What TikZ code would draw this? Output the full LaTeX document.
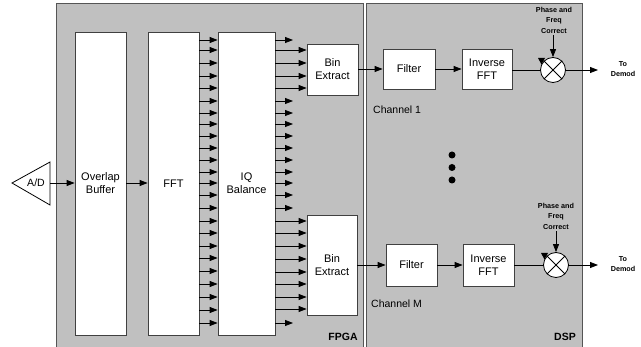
\documentclass[tikz,border=0pt]{standalone}
\usepackage{fontspec}
\setmainfont{Liberation Sans}
\usetikzlibrary{arrows.meta}
\definecolor{panelgray}{HTML}{C0C0C0}
\definecolor{paneledge}{HTML}{555555}
\definecolor{boxedge}{HTML}{404040}
\begin{document}
\begin{tikzpicture}[x=1pt,y=-1pt,
  panel/.style={fill=panelgray,draw=paneledge,line width=1pt},
  blk/.style={draw=boxedge,fill=white,line width=0.8pt,inner sep=0pt,align=center,
    font=\fontsize{11}{13}\selectfont},
  arr/.style={-{Triangle[length=8pt,width=6pt]},line width=0.8pt},
  ln/.style={line width=0.8pt},
  small/.style={font=\fontsize{7.2}{10.5}\selectfont\bfseries,align=center,inner sep=0pt},
  lbl/.style={font=\fontsize{10.5}{13}\selectfont,inner sep=0pt},
  big/.style={font=\fontsize{10.5}{13}\selectfont\bfseries,inner sep=0pt},
  mult/.style={circle,draw=black,fill=white,line width=0.8pt,minimum size=25pt,inner sep=0pt}]
\useasboundingbox (0,0) rectangle (641,347);
% panels
\draw[panel] (56,4) rectangle (363,352);
\draw[panel] (366.5,4) rectangle (582,352);
\node[big] (fpga) at (343,337) {FPGA};
\node[big] (dsp) at (565,337) {DSP};
% A/D
\draw[ln,fill=white] (50,162) -- (12,183) -- (50,205) -- cycle;
\node[lbl] (ad) at (36,183) {A/D};
\coordinate (adr) at (50,183);
% big blocks
\node[blk,minimum width=51pt,minimum height=303pt] (ovl) at (100.5,183.5) {Overlap\\Buffer};
\node[blk,minimum width=51pt,minimum height=303pt] (fft) at (173.5,183.5) {FFT};
\node[blk,minimum width=57pt,minimum height=303pt] (iq) at (246.5,183.5) {IQ\\Balance};
\draw[arr] (adr) -- (ovl.west |- adr);
\draw[arr] (ovl.east |- adr) -- (fft.west |- adr);
% bin extract blocks
\node[blk,minimum width=51pt,minimum height=51pt] (bin1) at (332.5,69.5) {Bin\\Extract};
\node[blk,minimum width=50pt,minimum height=100pt] (bin2) at (332,265) {Bin\\Extract};
% FFT -> IQ arrows
\foreach \y in {40,50,63,76,88,101,113,124,136,148,160,172,183,195,208,221,233,246,258,271,284,297,310,323}
  \draw[arr] (fft.east |- 0,\y) -- (iq.west |- 0,\y);
% IQ outputs
\coordinate (stub) at (293,0);
\foreach \y in {40,101,113,124,136,148,160,172,183,195,208,323}
  \draw[arr] (iq.east |- 0,\y) -- (stub |- 0,\y);
\foreach \y in {50,63,76,88}
  \draw[arr] (iq.east |- 0,\y) -- (bin1.west |- 0,\y);
\foreach \y in {221,233,246,259,272,284,297,309}
  \draw[arr] (iq.east |- 0,\y) -- (bin2.west |- 0,\y);
% channel 1
\node[blk,minimum width=52pt,minimum height=40pt] (fil1) at (409,69) {Filter};
\node[blk,minimum width=50pt,minimum height=40pt] (ifft1) at (487,69) {Inverse\\FFT};
\node[mult] (m1) at (553,70) {};
\draw[ln] (m1.north west) -- (m1.south east);
\draw[ln] (m1.north east) -- (m1.south west);
\draw[arr] (bin1.east |- fil1) -- (fil1.west);
\draw[arr] (fil1.east) -- (ifft1.west);
\draw[ln] (ifft1.east |- m1) -- (m1.west);
\fill (m1.center) ++(-15,-12) -- ++(7,0) -- ++(-3.5,6.5) -- cycle;
\node[small] (pf1) at (554,20) {Phase and\\Freq\\Correct};
\draw[arr] (pf1.south -| m1) ++(0,2) -- (m1.north);
\node[small] (dm1) at (623,69) {To\\Demod};
\coordinate (d1) at (598,70);
\draw[arr] (m1.east) -- (d1);
\node[lbl,anchor=west] (ch1) at (373,110) {Channel 1};
% dots
\fill (452,155) circle (3.5);
\fill (452,167.5) circle (3.5);
\fill (452,180) circle (3.5);
% channel M
\node[blk,minimum width=51pt,minimum height=42pt] (fil2) at (411.5,265) {Filter};
\node[blk,minimum width=51pt,minimum height=42pt] (ifft2) at (488.5,265) {Inverse\\FFT};
\node[mult] (m2) at (556,265) {};
\draw[ln] (m2.north west) -- (m2.south east);
\draw[ln] (m2.north east) -- (m2.south west);
\draw[arr] (bin2.east |- fil2) -- (fil2.west);
\draw[arr] (fil2.east) -- (ifft2.west);
\draw[ln] (ifft2.east |- m2) -- (m2.west);
\fill (m2.center) ++(-15,-12) -- ++(7,0) -- ++(-3.5,6.5) -- cycle;
\node[small] (pf2) at (556,216) {Phase and\\Freq\\Correct};
\draw[arr] (pf2.south -| m2) ++(0,2) -- (m2.north);
\node[small] (dm2) at (623,264) {To\\Demod};
\coordinate (d2) at (598,265);
\draw[arr] (m2.east) -- (d2);
\node[lbl,anchor=west] (chm) at (371,304) {Channel M};
\end{tikzpicture}
\end{document}
